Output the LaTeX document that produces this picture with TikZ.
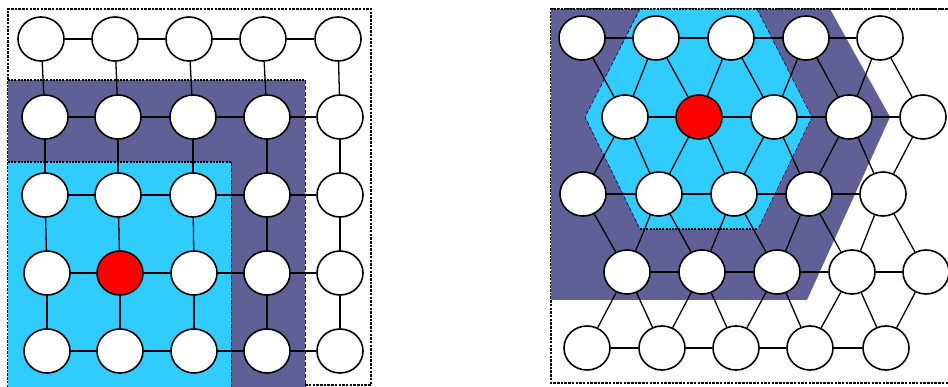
\documentclass[tikz,border=0pt]{standalone}
\usetikzlibrary{shapes.geometric}
\definecolor{purp}{RGB}{96,95,150}
\definecolor{skyb}{RGB}{48,204,253}
\definecolor{redn}{RGB}{255,0,0}
\tikzset{
  nd/.style={ellipse,draw=black,line width=1.6pt,fill=white,minimum width=46pt,minimum height=44pt,inner sep=0pt},
  rednd/.style={nd,fill=redn},
  ed/.style={draw=black,line width=1.3pt},
  framel/.style={draw=black,line width=1.2pt,dash pattern=on 2.5pt off 1.2pt},
  topdot/.style={draw=black,line width=2pt,dash pattern=on 2pt off 1.2pt},
  sidedash/.style={draw=black!70!blue,line width=0.6pt,dash pattern=on 4pt off 2pt},
}
\begin{document}
\begin{tikzpicture}[x=1pt,y=-1pt]
\useasboundingbox (0,0) rectangle (948,387);
% ---------- left panel ----------
\draw[framel] (8,387) -- (8,9) -- (371,9) -- (371,385) -- (305,385);
\fill[purp] (8,80) rectangle (305,387);
\draw[topdot] (8,80) -- (305,80);
\draw[sidedash] (305,80) -- (305,387);
\fill[skyb] (8,162) rectangle (231,387);
\draw[topdot] (8,162) -- (231,162);
\draw[sidedash] (231,162) -- (231,387);
% nodes
\foreach \r/\y/\xa/\xb/\xc/\xd/\xe in {1/39/41/115/189/263/338, 2/117/45/118/193/267/340, 3/195/45/118/193/267/340, 4/273/47/120/194/267/340, 5/351/47/120/194/267/340}{
  \foreach \c/\x in {1/\xa,2/\xb,3/\xc,4/\xd,5/\xe}{
    \ifnum\r=4 \ifnum\c=2
      \node[rednd] (L-\r-\c) at (\x,\y) {};
    \else
      \node[nd] (L-\r-\c) at (\x,\y) {};
    \fi\else
      \node[nd] (L-\r-\c) at (\x,\y) {};
    \fi
  }
}
\foreach \r in {1,...,5}{
  \foreach \c [evaluate=\c as \n using int(\c+1)] in {1,...,4}{
    \draw[ed] (L-\r-\c) -- (L-\r-\n);
  }
}
\foreach \r [evaluate=\r as \n using int(\r+1)] in {1,...,4}{
  \foreach \c in {1,...,5}{
    \draw[ed] (L-\r-\c) -- (L-\n-\c);
  }
}
% ---------- right panel ----------
\draw[framel] (948,9) -- (551,9) -- (551,383) -- (948,383);
\fill[purp] (551,9) -- (830,9) -- (890,117) -- (807,300) -- (551,300) -- cycle;
\fill[skyb] (640,9) -- (757,9) -- (812,117) -- (758,229) -- (640,229) -- (585,117) -- cycle;
\draw[sidedash] (757,9) -- (812,117) -- (758,229);
\draw[sidedash] (640,9) -- (585,117) -- (640,229);
\draw[topdot] (640,229) -- (758,229);
\draw[topdot] (551,9) -- (948,9);
\foreach \r/\y/\xa/\xb/\xc/\xd/\xe in {1/38/582/656/731/806/880, 2/117/625/699/774/849/923, 3/194/583/659/734/809/883, 4/272/627/702/777/852/926, 5/348/587/662/736/810/886}{
  \foreach \c/\x in {1/\xa,2/\xb,3/\xc,4/\xd,5/\xe}{
    \ifnum\r=2 \ifnum\c=2
      \node[rednd] (R-\r-\c) at (\x,\y) {};
    \else
      \node[nd] (R-\r-\c) at (\x,\y) {};
    \fi\else
      \node[nd] (R-\r-\c) at (\x,\y) {};
    \fi
  }
}
\foreach \r in {1,...,5}{
  \foreach \c [evaluate=\c as \n using int(\c+1)] in {1,...,4}{
    \draw[ed] (R-\r-\c) -- (R-\r-\n);
  }
}
% odd rows (left-shifted) to the even row below
\foreach \r [evaluate=\r as \n using int(\r+1)] in {1,3}{
  \foreach \c in {1,...,5}{
    \draw[ed] (R-\r-\c) -- (R-\n-\c);
  }
  \foreach \c [evaluate=\c as \p using int(\c-1)] in {2,...,5}{
    \draw[ed] (R-\r-\c) -- (R-\n-\p);
  }
}
% even rows (right-shifted) to the odd row below
\foreach \r [evaluate=\r as \n using int(\r+1)] in {2,4}{
  \foreach \c in {1,...,5}{
    \draw[ed] (R-\r-\c) -- (R-\n-\c);
  }
  \foreach \c [evaluate=\c as \p using int(\c+1)] in {1,...,4}{
    \draw[ed] (R-\r-\c) -- (R-\n-\p);
  }
}
\end{tikzpicture}
\end{document}
